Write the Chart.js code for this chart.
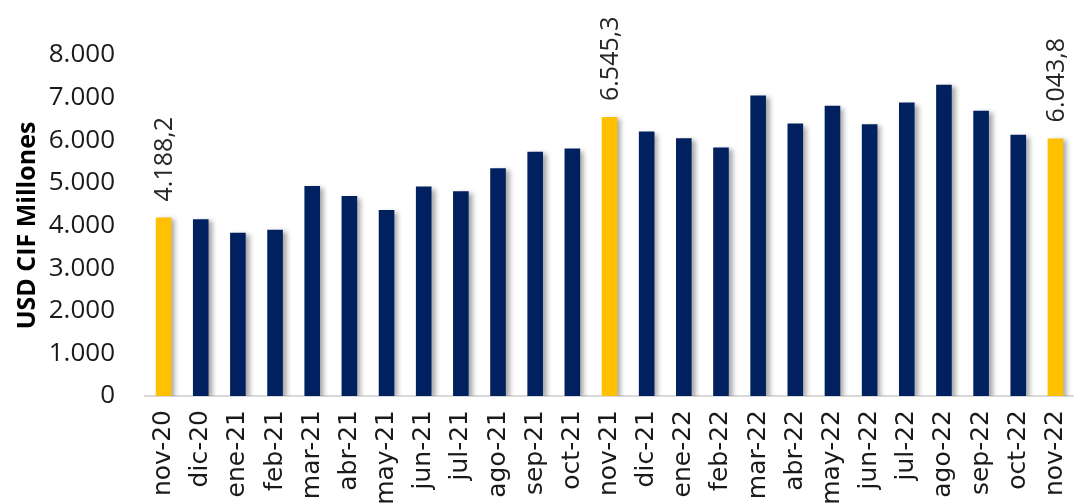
<!DOCTYPE html>
<html>
<head>
<meta charset="utf-8">
<script src="https://cdn.jsdelivr.net/npm/chart.js@4"></script>
<style>
  html, body { margin: 0; padding: 0; background: #fff; }
  #wrap { width: 1074px; height: 504px; }
</style>
</head>
<body>
<div id="wrap"><canvas id="myChart" width="1074" height="504"></canvas></div>
<script>
const months = ["nov-20", "dic-20", "ene-21", "feb-21", "mar-21", "abr-21", "may-21", "jun-21",
  "jul-21", "ago-21", "sep-21", "oct-21", "nov-21", "dic-21", "ene-22", "feb-22", "mar-22",
  "abr-22", "may-22", "jun-22", "jul-22", "ago-22", "sep-22", "oct-22", "nov-22"];
const imports = [4188.2, 4149, 3827, 3903, 4924, 4695, 4366, 4913, 4804, 5345, 5728, 5805,
  6545.3, 6204, 6047, 5829, 7049, 6392, 6807, 6377, 6885, 7300, 6690, 6127, 6043.8];
const highlighted = [0, 12, 24];
const yTicks = [0, 1000, 2000, 3000, 4000, 5000, 6000, 7000, 8000];

const navy = "#002060"
const gold = "#FFC000"

function fmt(v, dec) {
  return v.toLocaleString("de-DE", { minimumFractionDigits: dec, maximumFractionDigits: dec })
}

// drop shadow on the bars, like the excel original
const barShadow = {
  id: "barShadow",
  beforeDatasetsDraw(chart) {
    const ctx = chart.ctx
    ctx.save()
    ctx.shadowColor = "rgba(0,0,0,0.35)"
    ctx.shadowBlur = 5
    ctx.shadowOffsetX = 4
    ctx.shadowOffsetY = 2
  },
  afterDatasetsDraw(chart) {
    chart.ctx.restore()
  }
}

// vertical value labels over the highlighted months
const valueLabels = {
  id: "valueLabels",
  afterDatasetsDraw(chart) {
    const ctx = chart.ctx
    const meta = chart.getDatasetMeta(0)
    ctx.save()
    ctx.font = "25px 'Open Sans'"
    ctx.fillStyle = "#262626"
    ctx.textAlign = "left"
    ctx.textBaseline = "middle"
    highlighted.forEach(i => {
      const bar = meta.data[i]
      ctx.save()
      ctx.translate(bar.x + 1, bar.y - 16)
      ctx.rotate(-Math.PI / 2)
      ctx.fillText(fmt(imports[i], 1), 0, 0)
      ctx.restore()
    })
    ctx.restore()
  }
}

var chart = new Chart("myChart", {
  type: "bar",
  data: {
    labels: months,
    datasets: [{
      data: imports,
      backgroundColor: imports.map((v, i) => highlighted.includes(i) ? gold : navy),
      barPercentage: 0.42,
      categoryPercentage: 1
    }]
  },
  options: {
    responsive: false,
    animation: false,
    layout: { padding: { top: 55, left: 0, right: 0, bottom: 0 } },
    plugins: {
      legend: { display: false },
      tooltip: { enabled: false }
    },
    scales: {
      x: {
        grid: { display: false, drawTicks: false },
        border: { display: true, color: "#D9D9D9", width: 2 },
        ticks: {
          autoSkip: false,
          minRotation: 90,
          maxRotation: 90,
          padding: 14,
          color: "#1a1a1a",
          font: { family: "DejaVu Sans", size: 25 }
        },
        afterFit(s) {
          s.height = 108
          s.paddingLeft = 0
          s.paddingRight = 0
        }
      },
      y: {
        min: 0,
        max: 8000,
        afterBuildTicks(s) { s.ticks = yTicks.map(v => ({ value: v })) },
        grid: { display: false, drawTicks: false },
        border: { display: false },
        ticks: {
          padding: 30,
          color: "#1a1a1a",
          font: { family: "Open Sans", size: 26 },
          callback: v => fmt(v, 0)
        },
        title: {
          display: true,
          text: "USD CIF Millones",
          color: "#000",
          padding: { top: 13, bottom: 0 },
          font: { family: "Open Sans", size: 25, weight: "bold", lineHeight: 1.2 }
        },
        afterFit(s) { s.width = 145 }
      }
    }
  },
  plugins: [barShadow, valueLabels]
});
</script>
</body>
</html>
